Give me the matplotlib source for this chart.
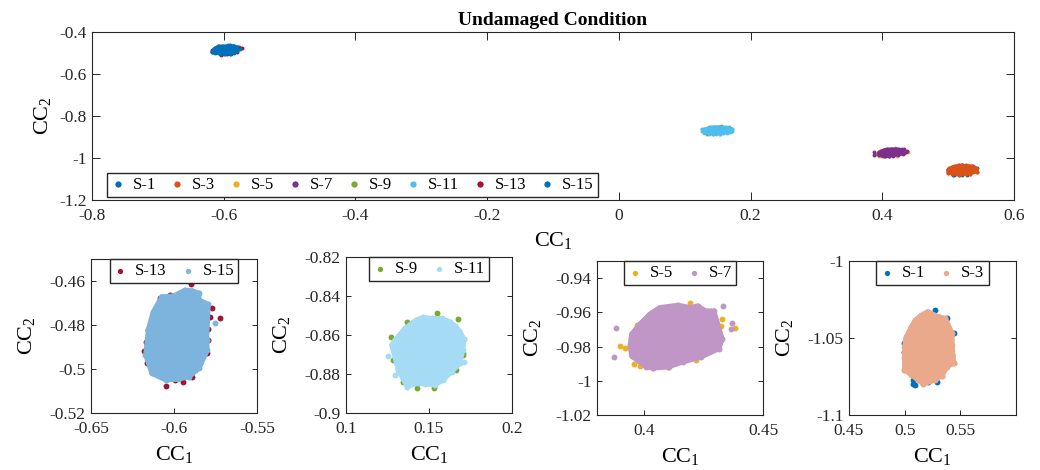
import matplotlib
matplotlib.use("Agg")
import matplotlib.pyplot as plt
import numpy as np
from matplotlib.patches import Polygon
from matplotlib.ticker import FuncFormatter

plt.rcParams["font.family"] = ["Liberation Serif", "DejaVu Serif"]
plt.rcParams["mathtext.fontset"] = "custom"
plt.rcParams["mathtext.rm"] = "Liberation Serif"
plt.rcParams["mathtext.it"] = "Liberation Serif:italic"
plt.rcParams["axes.unicode_minus"] = False

# ---- data (CC1, CC2) ----
# sensors drawn underneath: only the dots that peek out
S1_DOTS = [(0.5268, -1.0318), (0.5167, -1.0351), (0.5060, -1.0437), (0.5014, -1.0502),
           (0.4993, -1.0534), (0.4998, -1.0589), (0.5075, -1.0773), (0.5096, -1.0805),
           (0.5075, -1.0799), (0.5213, -1.0788), (0.5289, -1.0788), (0.5421, -1.0610),
           (0.5442, -1.0470), (0.5381, -1.0372)]
S5_DOTS = [(0.3897, -0.9798), (0.3918, -0.9810), (0.3957, -0.9904), (0.3981, -0.9914),
           (0.4022, -0.9891), (0.4105, -0.9920), (0.4217, -0.9852), (0.4217, -0.9881),
           (0.4310, -0.9775), (0.4321, -0.9678), (0.4328, -0.9639), (0.4383, -0.9692),
           (0.4192, -0.9543), (0.4033, -0.9610), (0.3953, -0.9726), (0.3967, -0.9674)]
S9_DOTS = [(0.1550, -0.8489), (0.1677, -0.8518), (0.1269, -0.8612), (0.1305, -0.8626),
           (0.1285, -0.8728), (0.1315, -0.8771), (0.1341, -0.8843), (0.1426, -0.8873),
           (0.1532, -0.8873), (0.1663, -0.8779), (0.1707, -0.8694), (0.1701, -0.8648),
           (0.1502, -0.8523), (0.1396, -0.8540), (0.1366, -0.8532), (0.1703, -0.8703)]
S13_DOTS = [(-0.5898, -0.4615), (-0.5769, -0.4724), (-0.5723, -0.4768), (-0.5785, -0.4764),
            (-0.6084, -0.4679), (-0.6134, -0.4773), (-0.6155, -0.4823), (-0.6171, -0.4876),
            (-0.6181, -0.4918), (-0.6164, -0.4971), (-0.6048, -0.5076), (-0.5994, -0.5050),
            (-0.5948, -0.5058), (-0.5893, -0.5035), (-0.5843, -0.4974), (-0.5803, -0.4929),
            (-0.5793, -0.4868), (-0.5793, -0.4820), (-0.6024, -0.4664), (-0.5954, -0.4656)]

# sensors drawn on top: outline of the dense cloud + loose dots
S3_EDGE = [(0.5206, -1.0329), (0.5305, -1.0362), (0.5365, -1.0372), (0.5427, -1.0470),
           (0.5427, -1.0545), (0.5442, -1.0664), (0.5381, -1.0686), (0.5335, -1.0745),
           (0.5274, -1.0773), (0.5167, -1.0799), (0.5121, -1.0773), (0.5060, -1.0740),
           (0.4998, -1.0708), (0.4998, -1.0632), (0.4998, -1.0556), (0.5014, -1.0492),
           (0.5060, -1.0427), (0.5096, -1.0383), (0.5151, -1.0351)]
S3_DOTS = [(0.5442, -1.0664), (0.5335, -1.0745), (0.5167, -1.0799), (0.4998, -1.0708),
           (0.5206, -1.0329), (0.5305, -1.0362)]
S7_EDGE = [(0.3981, -0.9668), (0.4022, -0.9610), (0.4064, -0.9572), (0.4140, -0.9558),
           (0.4196, -0.9572), (0.4224, -0.9562), (0.4258, -0.9591), (0.4293, -0.9591),
           (0.4328, -0.9755), (0.4314, -0.9813), (0.4238, -0.9862), (0.4161, -0.9891),
           (0.4099, -0.9920), (0.4036, -0.9926), (0.4008, -0.9920), (0.3946, -0.9856),
           (0.3939, -0.9794), (0.3946, -0.9726)]
S7_DOTS = [(0.3880, -0.9694), (0.3872, -0.9862), (0.4330, -0.9562), (0.4370, -0.9663),
           (0.4363, -0.9697), (0.4036, -0.9926), (0.4099, -0.9920)]
S11_EDGE = [(0.1466, -0.8509), (0.1516, -0.8515), (0.1576, -0.8515), (0.1627, -0.8532),
            (0.1657, -0.8554), (0.1683, -0.8578), (0.1711, -0.8622), (0.1703, -0.8677),
            (0.1687, -0.8745), (0.1637, -0.8788), (0.1586, -0.8831), (0.1536, -0.8856),
            (0.1476, -0.8851), (0.1426, -0.8848), (0.1369, -0.8865), (0.1315, -0.8780),
            (0.1275, -0.8651), (0.1295, -0.8626), (0.1355, -0.8566), (0.1422, -0.8523)]
S11_DOTS = [(0.1255, -0.8709), (0.1295, -0.8805), (0.1713, -0.8737), (0.1711, -0.8622)]
S15_EDGE = [(-0.5934, -0.4641), (-0.5890, -0.4644), (-0.5849, -0.4656), (-0.5849, -0.4686),
            (-0.5793, -0.4706), (-0.5803, -0.4868), (-0.5799, -0.4914), (-0.5849, -0.4997),
            (-0.5908, -0.5035), (-0.5974, -0.5047), (-0.6050, -0.5050), (-0.6134, -0.5020),
            (-0.6171, -0.4936), (-0.6155, -0.4820), (-0.6125, -0.4740), (-0.6074, -0.4671),
            (-0.6004, -0.4668)]
S15_DOTS = [(-0.5753, -0.4792), (-0.5854, -0.4656), (-0.6175, -0.4936)]

SENSORS = ["S-1", "S-3", "S-5", "S-7", "S-9", "S-11", "S-13", "S-15"]
TOP_COLORS = ["#0072BD", "#D95319", "#EDB120", "#7E2F8E",
              "#77AC30", "#4DBEEE", "#A2142F", "#0072BD"]

# (under, over) pairs for the zoomed panels, left to right
PAIRS = [("S-13", "S-15"), ("S-9", "S-11"), ("S-5", "S-7"), ("S-1", "S-3")]
PAIR_COLORS = [("#A2142F", "#7DB4DE"), ("#77AC30", "#A6DBF5"),
               ("#EDB120", "#BF96C6"), ("#0072BD", "#EBA98B")]
PAIR_XLIM = [(-0.65, -0.55), (0.1, 0.2), (0.38, 0.45), (0.45, 0.6)]
PAIR_YLIM = [(-0.52, -0.45), (-0.9, -0.82), (-1.02, -0.93), (-1.1, -1.0)]
PAIR_XTICKS = [[-0.65, -0.6, -0.55], [0.1, 0.15, 0.2], [0.4, 0.45], [0.45, 0.5, 0.55]]
PAIR_YTICKS = [[-0.52, -0.5, -0.48, -0.46], [-0.9, -0.88, -0.86, -0.84, -0.82],
               [-1.02, -1.0, -0.98, -0.96, -0.94], [-1.1, -1.05, -1.0]]

DATA = {
    "S-1": (None, S1_DOTS), "S-3": (S3_EDGE, S3_DOTS),
    "S-5": (None, S5_DOTS), "S-7": (S7_EDGE, S7_DOTS),
    "S-9": (None, S9_DOTS), "S-11": (S11_EDGE, S11_DOTS),
    "S-13": (None, S13_DOTS), "S-15": (S15_EDGE, S15_DOTS),
}

fmt = FuncFormatter(lambda v, _: f"{round(v, 6) + 0.0:g}")
LEG = dict(fontsize=12, frameon=True, fancybox=False, edgecolor="#262626",
           framealpha=1, borderpad=0.25, handlelength=0.8, handletextpad=0.5,
           columnspacing=0.85, borderaxespad=0)


def draw_sensor(ax, name, color, s, lw):
    edge, dots = DATA[name]
    if edge is not None:
        ax.add_patch(Polygon(np.array(edge), closed=True, facecolor=color,
                             edgecolor=color, linewidth=lw))
        pts = np.array(edge + dots)
    else:
        pts = np.array(dots)
    return ax.scatter(pts[:, 0], pts[:, 1], s=s, color=color, linewidths=0, label=name)


def style(ax, length):
    ax.tick_params(direction="in", top=True, right=True, length=length,
                   width=0.7, labelsize=12.5, colors="#262626")
    ax.tick_params(axis="x", pad=6)
    ax.tick_params(axis="y", pad=4)
    ax.xaxis.set_major_formatter(fmt)
    ax.yaxis.set_major_formatter(fmt)
    for sp in ax.spines.values():
        sp.set_linewidth(0.8)
        sp.set_color("#262626")


fig = plt.figure(figsize=(10.4, 4.7), dpi=100)
W, H = 1040, 470

# top overview panel
ax = fig.add_axes([92 / W, 1 - 200 / H, 922 / W, 168 / H])
handles = []
for name, c in zip(SENSORS, TOP_COLORS):
    handles.append(draw_sensor(ax, name, c, s=8, lw=2.0))
ax.set_xlim(-0.8, 0.6)
ax.set_ylim(-1.2, -0.4)
ax.set_xticks(np.arange(-0.8, 0.61, 0.2))
ax.set_yticks(np.arange(-1.2, -0.39, 0.2))
style(ax, 6)
ax.set_title("Undamaged Condition", fontsize=14, fontweight="bold", pad=5)
ax.set_xlabel("CC$_1$", fontsize=16, labelpad=4)
ax.set_ylabel("CC$_2$", fontsize=16, labelpad=4)
ax.legend(handles=handles, loc="lower left", bbox_to_anchor=(15 / 922, 3 / 168),
          ncol=8, markerscale=1.6, **LEG)

# zoomed panels
rects = [(91, 257, 259, 413), (346, 512, 257, 413), (597, 763, 261, 415), (849, 1016, 261, 415)]
for i, (l, r, t, b) in enumerate(rects):
    ax = fig.add_axes([l / W, 1 - b / H, (r - l) / W, (b - t) / H])
    under, over = PAIRS[i]
    cu, co = PAIR_COLORS[i]
    h1 = draw_sensor(ax, under, cu, s=18, lw=0)
    h2 = draw_sensor(ax, over, co, s=18, lw=3.5)
    ax.set_xlim(*PAIR_XLIM[i])
    ax.set_ylim(*PAIR_YLIM[i])
    ax.set_xticks(PAIR_XTICKS[i])
    ax.set_yticks(PAIR_YTICKS[i])
    style(ax, 3.5)
    ax.set_xlabel("CC$_1$", fontsize=16, labelpad=5)
    ax.set_ylabel("CC$_2$", fontsize=16, labelpad=9)
    ax.legend(handles=[h1, h2], loc="upper center", bbox_to_anchor=(0.5, 1.0),
              ncol=2, markerscale=0.9, **LEG)

fig.savefig("out.png", dpi=100)
